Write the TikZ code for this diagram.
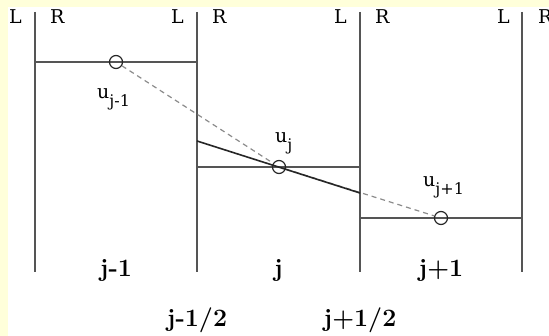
\documentclass[tikz,border=0pt]{standalone}
\usepackage{fontspec}
\newfontfamily\labfont{DejaVu Serif}
\definecolor{bgyellow}{RGB}{255,255,218}
\definecolor{wallgray}{RGB}{85,85,85}
\definecolor{dashgray}{RGB}{140,140,140}
\newcommand{\ulab}[1]{u\raisebox{-8pt}{\fontsize{16}{16}\selectfont #1}}
\begin{document}
\begin{tikzpicture}[x=1pt,y=-1pt,
  wall/.style={draw=wallgray, line width=1.4pt},
  slopeline/.style={draw=black!85, line width=1.6pt},
  dashline/.style={draw=dashgray, line width=1.2pt, dash pattern=on 5pt off 4pt},
  lab/.style={font=\labfont\fontsize{19}{19}\selectfont, inner sep=0pt},
  blab/.style={font=\bfseries\fontsize{25}{25}\selectfont, inner sep=0pt},
  pnt/.style={circle, draw=black!85, line width=1.2pt, minimum size=13pt, inner sep=0pt}]
\fill[bgyellow] (0,0) rectangle (549,336);
\fill[white] (8,7) rectangle (549,336);
\useasboundingbox (0,0) rectangle (549,336);
% cell walls
\foreach \x/\n in {35/a,197/b,360/c,522/d}{
  \coordinate (t\n) at (\x,12);
  \coordinate (b\n) at (\x,272);
  \draw[wall] (t\n) -- (b\n);
}
% cell averages
\coordinate (h1l) at (35,62);  \coordinate (h1r) at (197,62);
\coordinate (h2l) at (197,167); \coordinate (h2r) at (360,167);
\coordinate (h3l) at (360,218); \coordinate (h3r) at (522,218);
\draw[wall] (h1l) -- (h1r);
\draw[wall] (h2l) -- (h2r);
\draw[wall] (h3l) -- (h3r);
% points
\node[pnt] (p1) at (116,62) {};
\node[pnt] (p2) at (279,167) {};
\node[pnt] (p3) at (441,218) {};
\draw[dashline] (p1) -- (p2);
\draw[dashline] (p2) -- (p3);
% limited slope
\coordinate (s1) at (197,141);
\coordinate (s2) at (360,193);
\draw[slopeline] (s1) -- (s2);
% L / R labels
\node[lab, anchor=base east] (L1) at (22,24) {L};
\node[lab, anchor=base west] (R1) at (50,24) {R};
\node[lab, anchor=base east] (L2) at (184,24) {L};
\node[lab, anchor=base west] (R2) at (212,24) {R};
\node[lab, anchor=base east] (L3) at (347,24) {L};
\node[lab, anchor=base west] (R3) at (375,24) {R};
\node[lab, anchor=base east] (L4) at (510,24) {L};
\node[lab, anchor=base west] (R4) at (538,24) {R};
% u labels
\node[lab, anchor=base west] (u1) at (97,99) {\ulab{j-1}};
\node[lab, anchor=base west] (u2) at (275,143) {\ulab{j}};
\node[lab, anchor=base west] (u3) at (423,187) {\ulab{j+1}};
% cell indices
\node[blab, anchor=base] (c1) at (116,277) {j-1};
\node[blab, anchor=base] (c2) at (278.5,277) {j};
\node[blab, anchor=base] (c3) at (441,277) {j+1};
\node[blab, anchor=base] (f1) at (197,327) {j-1/2};
\node[blab, anchor=base] (f2) at (360,327) {j+1/2};
\end{tikzpicture}
\end{document}
